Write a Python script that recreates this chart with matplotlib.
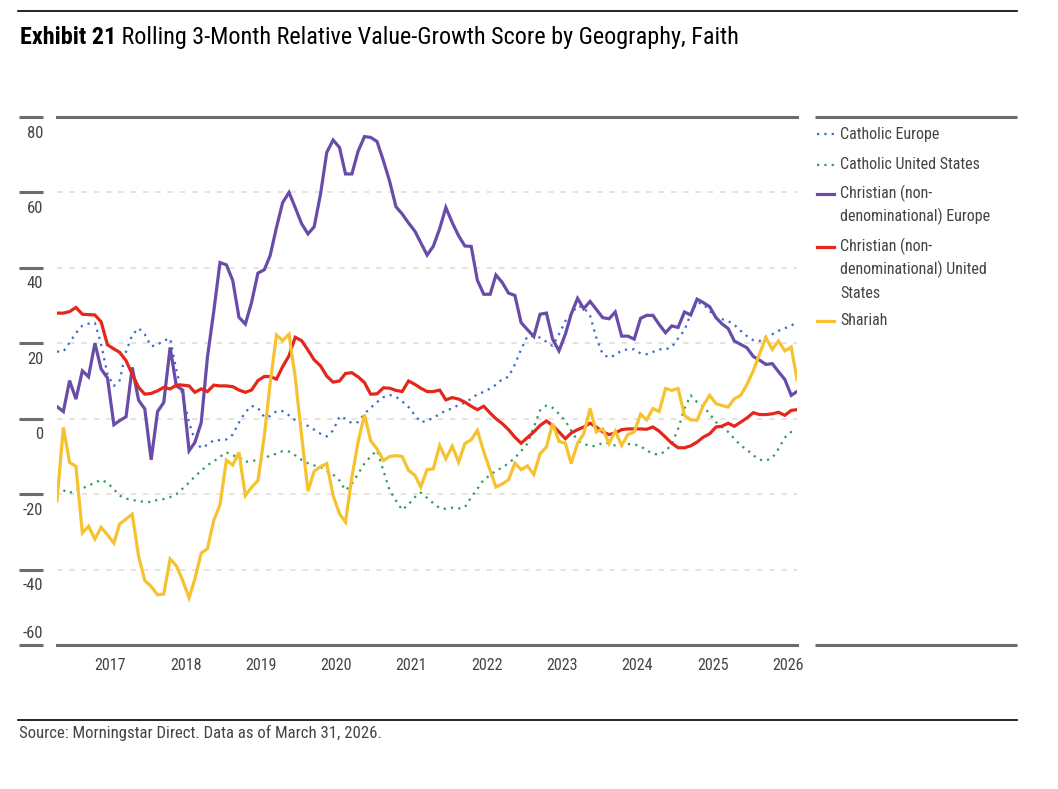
import matplotlib
matplotlib.use("Agg")
import matplotlib.pyplot as plt
from matplotlib.lines import Line2D
from matplotlib import font_manager
import matplotlib.transforms as mtransforms
import pandas as pd

_avail = {f.name for f in font_manager.fontManager.ttflist}
_cond = [n for n in ['Liberation Sans Narrow', 'Arial Narrow', 'Roboto Condensed',
                     'Open Sans Condensed'] if n in _avail]
if _cond:
    FONT = [_cond[0], 'DejaVu Sans']
    SZ = dict(title=17.4, leg=11.5, tick=12, year=11.5, src=12.1)
else:
    FONT = ['Roboto', 'DejaVu Sans']
    SZ = dict(title=15.0, leg=10.0, tick=10.5, year=10.3, src=10.8)
plt.rcParams['font.family'] = FONT

# ---------------- data ----------------
dates = pd.date_range('2016-05-01', periods=119, freq='MS')

catholic_europe = [
    17.8, 17.8, 20.2, 22.7, 24.7, 25.2, 25.4, 19.8, 11.8, 8.7,
    10.1, 17.8, 22.2, 24.0, 22.4, 19.2, 19.6, 20.7, 21.3, 13.0,
    6.0, -1.0, -5.8, -7.8, -6.9, -5.7, -5.7, -5.5, -4.2, -1.0,
    1.7, 3.4, 2.9, 0.4, 0.7, 2.0, 2.0, 0.9, -0.4, -1.3,
    -1.9, -2.9, -4.0, -4.7, -3.1, 0.6, 0.0, -1.2, -0.9, 1.3,
    2.9, 4.4, 5.7, 6.3, 5.8, 4.6, 3.1, 0.9, -0.9, -0.6,
    0.3, 1.2, 2.2, 2.7, 3.7, 4.2, 5.3, 6.5, 7.1, 8.0,
    9.0, 10.5, 11.1, 14.4, 18.4, 21.9, 21.9, 21.5, 20.4, 19.3,
    22.4, 25.9, 27.7, 29.9, 29.5, 27.3, 21.5, 17.1, 16.2, 16.9,
    18.1, 18.4, 18.4, 17.3, 17.1, 17.7, 18.4, 18.4, 19.0, 21.3,
    23.5, 27.7, 30.8, 30.4, 28.6, 26.8, 26.4, 25.9, 24.9, 23.3,
    21.9, 20.8, 20.6, 21.7, 22.4, 23.3, 24.0, 24.6, 25.9]

catholic_us = [
    -18.0, -19.0, -19.7, -18.8, -18.5, -17.7, -17.0, -16.2, -17.0, -18.7,
    -20.4, -21.2, -21.5, -21.9, -22.0, -22.1, -21.5, -21.3, -20.8, -20.0,
    -18.5, -16.9, -15.3, -13.8, -12.3, -11.3, -10.1, -8.9, -9.7, -10.2,
    -11.5, -11.1, -11.1, -10.6, -9.7, -9.3, -8.6, -8.7, -9.7, -10.9,
    -11.8, -12.4, -12.8, -13.9, -14.8, -16.4, -19.0, -17.3, -14.6, -11.9,
    -10.0, -8.4, -13.8, -19.0, -21.7, -24.2, -22.7, -20.8, -19.6, -21.0,
    -22.4, -23.7, -23.9, -23.6, -23.8, -23.5, -20.8, -18.6, -16.1, -15.0,
    -13.7, -13.0, -11.8, -10.4, -8.6, -6.6, -2.2, 2.2, 3.5, 2.9,
    1.3, -0.6, -3.1, -5.8, -6.6, -7.3, -7.2, -6.4, -6.5, -7.1,
    -7.0, -6.7, -6.8, -7.3, -8.4, -9.3, -9.5, -8.6, -6.8, -2.7,
    2.7, 6.2, 4.4, 3.3, 1.3, -0.9, -2.2, -3.5, -5.3, -7.1,
    -8.2, -9.7, -10.9, -11.1, -10.4, -8.0, -5.0, -3.5, -3.1]

christian_europe = [
    3.2, 1.9, 10.1, 5.2, 12.7, 11.1, 20.0, 13.2, 10.8, -1.6,
    -0.5, 0.5, 13.6, 4.9, 2.6, -10.9, 1.9, 4.3, 18.9, 8.7,
    7.6, -8.5, -6.3, -1.0, 16.3, 28.6, 41.4, 40.8, 36.6, 26.9,
    25.1, 30.8, 38.6, 39.5, 43.2, 50.7, 57.3, 60.0, 56.0, 51.7,
    49.0, 50.9, 59.6, 70.6, 73.9, 71.9, 64.9, 64.9, 70.9, 74.8,
    74.6, 73.5, 68.4, 63.0, 56.2, 54.3, 51.9, 49.7, 46.7, 43.4,
    45.7, 50.4, 56.0, 52.0, 48.5, 45.8, 45.7, 36.7, 33.0, 33.0,
    38.1, 36.1, 33.3, 32.7, 25.5, 23.6, 21.8, 27.7, 28.0, 21.1,
    18.0, 22.4, 27.7, 31.9, 29.2, 31.1, 29.0, 26.8, 26.5, 28.3,
    21.9, 21.9, 21.1, 26.6, 27.4, 27.4, 25.0, 22.8, 24.6, 24.2,
    28.3, 27.5, 31.7, 30.8, 29.7, 26.8, 25.2, 23.9, 20.6, 19.7,
    18.8, 16.5, 15.5, 14.4, 14.6, 12.5, 10.4, 6.2, 7.2]

christian_us = [
    28.0, 28.0, 28.4, 29.5, 27.7, 27.6, 27.5, 25.7, 19.6, 18.5,
    17.6, 15.4, 11.8, 8.3, 6.5, 6.7, 7.4, 8.3, 7.9, 8.9,
    8.9, 8.7, 7.0, 7.9, 7.2, 8.9, 8.7, 8.7, 8.5, 7.6,
    7.0, 7.6, 10.1, 11.2, 11.2, 10.5, 13.8, 16.7, 21.6, 20.7,
    18.2, 15.6, 14.0, 11.3, 9.7, 10.0, 12.0, 12.2, 11.1, 9.6,
    6.5, 6.6, 8.2, 8.1, 7.5, 7.2, 10.0, 9.1, 8.1, 7.2,
    7.2, 7.6, 5.0, 5.6, 5.2, 4.4, 3.3, 2.4, 3.3, 1.5,
    0.0, -1.3, -2.9, -4.9, -6.5, -5.0, -3.5, -1.8, -0.6, -1.8,
    -3.5, -5.3, -3.8, -2.9, -2.2, -1.2, -2.2, -3.5, -4.2, -3.8,
    -2.9, -2.7, -2.7, -2.7, -2.8, -2.2, -3.3, -4.9, -6.5, -7.7,
    -7.7, -7.2, -6.2, -4.9, -4.0, -2.2, -2.0, -1.2, -2.0, -0.9,
    0.2, 1.6, 1.1, 1.1, 1.3, 1.7, 0.9, 2.2, 2.4]

shariah = [
    -21.7, -2.3, -11.6, -12.6, -30.3, -28.5, -31.9, -28.8, -30.8, -33.0,
    -27.9, -26.6, -25.3, -36.5, -42.9, -44.5, -46.7, -46.5, -37.2, -39.0,
    -42.9, -47.5, -42.5, -35.6, -34.5, -26.9, -22.8, -11.0, -12.3, -8.9,
    -20.4, -18.2, -16.4, -4.5, 9.2, 22.2, 20.7, 22.4, 11.0, -4.5,
    -19.2, -13.9, -12.7, -11.9, -20.4, -25.2, -27.4, -15.5, -6.2, 1.1,
    -5.8, -8.0, -11.1, -10.0, -9.8, -10.0, -13.7, -15.0, -18.1, -13.5,
    -13.3, -7.1, -10.6, -7.3, -11.5, -6.6, -5.6, -3.1, -8.8, -13.7,
    -18.1, -17.3, -16.2, -11.8, -13.5, -12.5, -14.8, -9.3, -7.5, -1.3,
    -6.0, -6.5, -11.9, -6.5, -4.0, 2.7, -3.5, -2.7, -6.6, -3.3,
    -7.1, -4.2, -3.5, 1.2, -0.3, 2.7, 1.9, 8.0, 7.5, 8.0,
    0.9, -0.3, -0.4, 3.5, 6.2, 4.0, 3.5, 3.1, 5.3, 6.2,
    9.1, 12.7, 17.3, 21.5, 18.4, 20.6, 18.0, 19.0, 10.4]

series_names = ['Catholic Europe', 'Catholic United States',
                'Christian (non-\ndenominational) Europe',
                'Christian (non-\ndenominational) United\nStates',
                'Shariah']
series_values = [catholic_europe, catholic_us, christian_europe, christian_us, shariah]
series_colors = ['#3b6bc6', '#2e9e5e', '#684caa', '#e5261b', '#f6c230']
series_dotted = [True, True, False, False, False]

year_labels = ['2017', '2018', '2019', '2020', '2021', '2022', '2023', '2024', '2025', '2026']
y_ticks = [80, 60, 40, 20, 0, -20, -40, -60]
grid_levels = [60, 40, 20, 0, -20, -40]

title_bold = 'Exhibit 21'
title_rest = ' Rolling 3-Month Relative Value-Growth Score by Geography, Faith'
source_text = 'Source: Morningstar Direct. Data as of March 31, 2026.'

# ---------------- figure ----------------
W, H = 1058, 789
fig = plt.figure(figsize=(W / 100, H / 100), dpi=100)
fig.patch.set_facecolor('white')

def fx(px):
    return px / W

def fy(py):
    return 1 - py / H

AX_L, AX_R, AX_T, AX_B = 57, 797, 117, 645
ax = fig.add_axes([fx(AX_L), fy(AX_B), (AX_R - AX_L) / W, (AX_B - AX_T) / H])
ax.set_facecolor('none')
for s in ax.spines.values():
    s.set_visible(False)

AXIS_COL = '#6d6d6d'
TEXT_COL = '#444444'

# grid
for g in grid_levels:
    ax.axhline(g, color='#e4e1dc', lw=1.3, linestyle=(0, (3, 3.8)), zorder=1)

# series
for name, vals, col, dotted in zip(series_names, series_values, series_colors, series_dotted):
    if dotted:
        ax.plot(dates, vals, color=col, lw=1.6, linestyle=(0, (1.0, 2.3)),
                dash_capstyle='butt', zorder=2)
    else:
        ax.plot(dates, vals, color=col, lw=2.3, solid_joinstyle='miter', zorder=3)

ax.set_ylim(-60, 80)
ax.set_xlim(dates[0], dates[-1])

# top / bottom rules
for yv in (80, -60):
    ax.axhline(yv, color=AXIS_COL, lw=2.2, clip_on=False, zorder=4)

# y tick marks and labels
ax.set_yticks([])
ytr = ax.get_yaxis_transform()
x0 = (19 - AX_L) / (AX_R - AX_L)
x1 = (43 - AX_L) / (AX_R - AX_L)
for v in y_ticks:
    ax.plot([x0, x1], [v, v], transform=ytr, color=AXIS_COL, lw=2.2, clip_on=False,
            solid_capstyle='butt')
    off = 12 if v == -60 else -16
    tr = mtransforms.offset_copy(ytr, fig=fig, x=0, y=off, units='dots')
    ax.text(x1, v, str(v), transform=tr, ha='right', va='center',
            fontsize=SZ['tick'], color=TEXT_COL, family=FONT)

# x ticks
xt = [pd.Timestamp(f'{y}-01-15') for y in year_labels]
ax.set_xticks(xt)
ax.set_xticklabels(year_labels, fontsize=SZ['year'], color=TEXT_COL, family=FONT)
ax.tick_params(axis='x', length=0, pad=9)

# legend rules
for py in (AX_T, AX_B):
    fig.add_artist(Line2D([fx(815), fx(1017)], [fy(py), fy(py)], transform=fig.transFigure,
                          color=AXIS_COL, lw=2.2, solid_capstyle='butt'))

# legend entries
leg_y = [134, 164.5, 193.5, 246.5, 320.5]
for name, col, dotted, yy in zip(series_names, series_colors, series_dotted, leg_y):
    if dotted:
        fig.add_artist(Line2D([fx(817), fx(834)], [fy(yy), fy(yy)], transform=fig.transFigure,
                              color=col, lw=1.6, linestyle=(0, (1.0, 2.3)), dash_capstyle='butt'))
    else:
        fig.add_artist(Line2D([fx(817), fx(834)], [fy(yy), fy(yy)], transform=fig.transFigure,
                              color=col, lw=2.3))
    fig.text(fx(840), fy(yy), name.split('\n')[0], ha='left', va='center',
             fontsize=SZ['leg'], color=TEXT_COL, family=FONT)
    for k, extra in enumerate(name.split('\n')[1:], start=1):
        fig.text(fx(840), fy(yy + 23.3 * k), extra, ha='left', va='center',
                 fontsize=SZ['leg'], color=TEXT_COL, family=FONT)

# title rule and title
fig.add_artist(Line2D([fx(18), fx(1017)], [fy(11), fy(11)], transform=fig.transFigure,
                      color='black', lw=1.2))
t1 = fig.text(fx(20), fy(44), title_bold, ha='left', va='baseline', fontsize=SZ['title'],
              fontweight='bold', color='black', family=FONT)
fig.canvas.draw()
bb = t1.get_window_extent()
fig.text(bb.x1 / W, fy(44), title_rest, ha='left', va='baseline', fontsize=SZ['title'],
         color='black', family=FONT)

# source
fig.add_artist(Line2D([fx(18), fx(1017)], [fy(720), fy(720)], transform=fig.transFigure,
                      color='black', lw=1.2))
fig.text(fx(19), fy(733), source_text, ha='left', va='center', fontsize=SZ['src'],
         color=TEXT_COL, family=FONT)

fig.savefig('out.png', dpi=100, facecolor='white')
